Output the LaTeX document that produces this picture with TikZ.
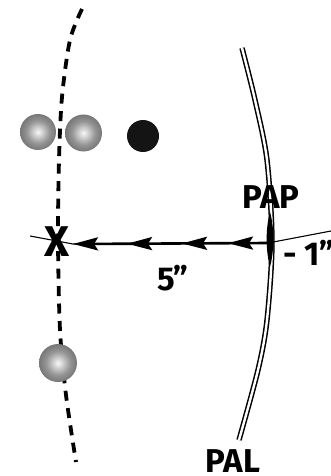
\documentclass[tikz,border=0pt]{standalone}
\usepackage{fontspec}
\setmainfont{Fira Sans}
\usetikzlibrary{arrows.meta,decorations.markings}

\pgfdeclareradialshading{pearl}{\pgfpoint{0bp}{0bp}}{color(0bp)=(black!3); color(16bp)=(black!42); color(50bp)=(black!85)}

\begin{document}
\begin{tikzpicture}[
    x=1pt, y=-1pt,
    line join=round,
    trackline/.style={line width=3.8pt, dash pattern=on 10pt off 7.5pt},
    railline/.style={double, line width=1.5pt, double distance=2.4pt},
    beamline/.style={line width=1.1pt},
    arw/.style={line width=2.6pt, -{Stealth[length=25pt, width=13pt, inset=4pt]},
        postaction=decorate,
        decoration={markings,
            mark=at position 40pt with {\arrow{Stealth[length=25pt, width=13pt, inset=4pt]}},
            mark=at position 86pt with {\arrow{Stealth[length=25pt, width=13pt, inset=4pt]}},
            mark=at position 141pt with {\arrow{Stealth[length=25pt, width=13pt, inset=4pt]}}}},
    pearlball/.style={shading=pearl},
    lbl/.style={font=\bfseries\fontsize{33}{36}\selectfont, inner sep=0pt, anchor=base},
]

\useasboundingbox (0,0) rectangle (331,476);

% -------------------------------------------------
% DASHED TRACK (left)
% -------------------------------------------------
\draw[trackline] plot[smooth] coordinates {
    (82,9) (70,40) (62,97) (59,160) (58,240) (60,330) (66,395) (76,462)
};

% -------------------------------------------------
% DOUBLE ARC (right)
% -------------------------------------------------
\draw[railline] plot[smooth] coordinates {
    (242,48) (255,100) (267,160) (272,242) (267,320) (258,370) (239,440)
};

% -------------------------------------------------
% HORIZONTAL LINE AND ARROWS
% -------------------------------------------------
\coordinate (pap) at (268,243);
\coordinate (xtip) at (73,244);
\coordinate (lend) at (30,236);
\coordinate (rend) at (331,231);

\draw[beamline] (lend) -- (xtip) -- (pap) -- (rend);
\draw[arw] (pap) -- (xtip);

% PAP mark
\fill (270,212) .. controls (274.5,228) and (274.5,250) .. (270,267)
    .. controls (265.5,250) and (265.5,228) .. (270,212);

% X mark
\node[lbl, font=\bfseries\fontsize{43}{45}\selectfont] (xmark) at (57,256) {X};

% -------------------------------------------------
% BALLS
% -------------------------------------------------
\shade[pearlball] (38,132) circle (18);
\shade[pearlball] (83.5,133) circle (18.5);
\fill[black!92] (143,136) circle (16);
\shade[pearlball] (58,363) circle (19);

% -------------------------------------------------
% LABELS
% -------------------------------------------------
\node[lbl] (paplbl) at (271,208) {PAP};
\node[lbl] (dist) at (173,290) {5”};
\node[lbl, anchor=base west] (shift) at (283,265) {- 1”};
\node[lbl] (pallbl) at (233,472) {PAL};

\end{tikzpicture}
\end{document}
